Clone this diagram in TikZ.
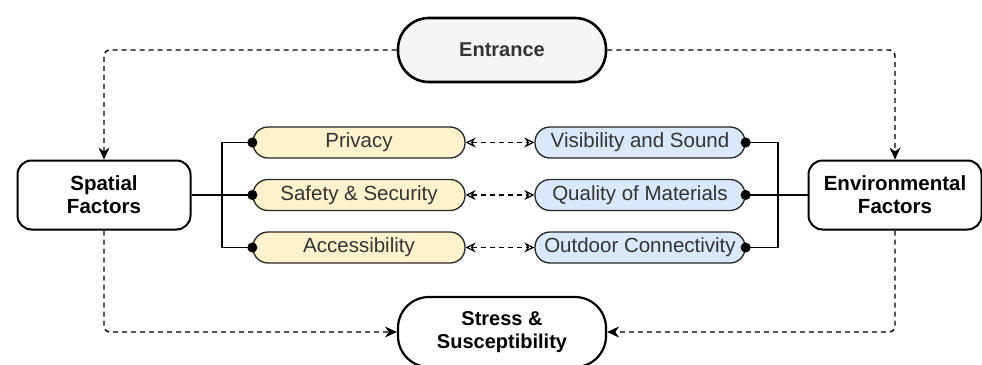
\documentclass[tikz,border=0pt]{standalone}
\usepackage{fontspec}
\setmainfont{Liberation Sans}
\usetikzlibrary{arrows.meta, positioning}
\definecolor{privfill}{HTML}{FFF2CC}
\definecolor{visfill}{HTML}{DAE8FC}
\definecolor{entfill}{HTML}{F5F5F5}
\definecolor{txtgray}{HTML}{333333}
\tikzstyle{stadium}=[rectangle, rounded corners=31pt, draw=black, line width=2.6pt, minimum width=208pt, minimum height=64pt, align=center, font=\fontsize{20}{23}\selectfont\bfseries]
\tikzstyle{factor}=[rectangle, rounded corners=14pt, draw=black, line width=2pt, minimum width=173pt, minimum height=69pt, align=center, font=\fontsize{20.5}{23}\selectfont\bfseries]
\tikzstyle{aspect}=[rectangle, rounded corners=15pt, draw=black!85, line width=1.3pt, minimum width=212pt, minimum height=31pt, fill=privfill, text=txtgray, inner sep=1pt, font=\fontsize{20.5}{23}\selectfont]
\tikzstyle{quality}=[aspect, fill=visfill, minimum width=210pt]
\tikzstyle{flow}=[line width=1.4pt, dash pattern=on 5pt off 4pt, rounded corners=6pt, -{Stealth[length=12pt, width=11pt]}]
\tikzstyle{link}=[line width=1.2pt, dash pattern=on 5pt off 4pt, {Stealth[open, length=10pt, width=10pt]}-{Stealth[open, length=10pt, width=10pt]}]
\tikzstyle{tie}=[line width=1.5pt, -{Circle[length=10pt]}, shorten >=-5pt]

\begin{document}
\begin{tikzpicture}[x=1pt, y=-1pt, node distance=52.5pt]
          \useasboundingbox (0,0) rectangle (982,364);
          \node[stadium, fill=entfill, text=txtgray] (entrance) at (502,50) {Entrance};
          \node[factor] (spatial) at (104,195) {Spatial\\Factors};
          \node[factor] (env) at (895,195) {Environmental\\Factors};
          \node[stadium, minimum height=70pt, line width=2.2pt] (stress) at (502,332) {Stress \&\\Susceptibility};

          \node[aspect] (safety) at (359,195) {Safety \& Security};
          \node[aspect] (privacy) [above of=safety] {Privacy};
          \node[aspect] (access) [below of=safety] {Accessibility};

          \node[quality] (material) at (640,195) {Quality of Materials};
          \node[quality] (sound) [above of=material] {Visibility and Sound};
          \node[quality] (outdoor) [below of=material] {Outdoor Connectivity};

          \coordinate (ljoin) at (222,195);
          \coordinate (rjoin) at (778,195);

          \draw[flow] (entrance.west) -| (spatial.north);
          \draw[flow] (entrance.east) -| (env.north);
          \draw[flow] (spatial.south) |- (stress.west);
          \draw[flow] (env.south) |- (stress.east);

          \draw[tie] (spatial.east) -- (safety.west);
          \draw[tie] (ljoin) |- (privacy.west);
          \draw[tie] (ljoin) |- (access.west);
          \draw[tie] (env.west) -- (material.east);
          \draw[tie] (rjoin) |- (sound.east);
          \draw[tie] (rjoin) |- (outdoor.east);

          \draw[link] (privacy.east) -- (sound.west);
          \draw[link] (safety.east) -- (material.west);
          \draw[link] (access.east) -- (outdoor.west);
        \end{tikzpicture}
\end{document}
